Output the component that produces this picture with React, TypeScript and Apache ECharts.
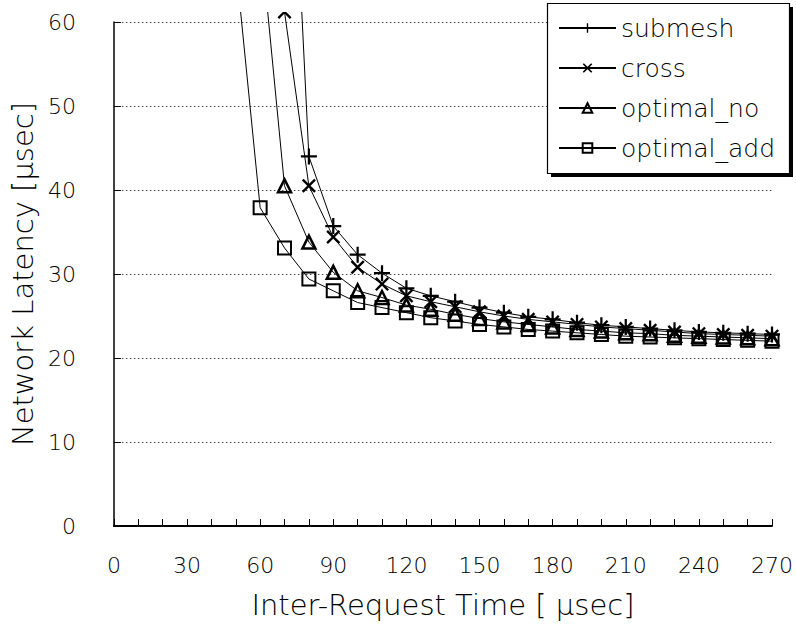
import React, { useEffect, useRef } from "react";
import * as echarts from "echarts";

const xValues = [50, 60, 70, 80, 90, 100, 110, 120, 130, 140, 150, 160, 170, 180, 190, 200, 210, 220, 230, 240, 250, 260, 270];
const submesh = [null, null, 103, 44.0, 35.7, 32.3, 30.1, 28.3, 27.4, 26.7, 26.0, 25.4, 24.9, 24.6, 24.2, 23.9, 23.7, 23.5, 23.3, 23.1, 23.0, 22.9, 22.8];
const cross = [null, null, 61.2, 40.5, 34.4, 30.8, 28.8, 27.4, 26.7, 26.1, 25.5, 25.0, 24.6, 24.3, 24.0, 23.7, 23.5, 23.3, 23.1, 22.9, 22.8, 22.7, 22.6];
const optimalNo = [null, 70.5, 40.5, 33.8, 30.2, 28.0, 27.2, 26.3, 25.8, 25.2, 24.7, 24.3, 24.0, 23.7, 23.4, 23.2, 23.0, 22.9, 22.7, 22.6, 22.5, 22.4, 22.3];
const optimalAdd = [67, 37.9, 33.1, 29.4, 28.0, 26.6, 26.0, 25.4, 24.8, 24.4, 24.0, 23.7, 23.4, 23.2, 23.0, 22.8, 22.6, 22.5, 22.4, 22.3, 22.2, 22.1, 22.0];
const seriesNames = ["submesh", "cross", "optimal_no", "optimal_add"];
const xTickLabels = [0, 30, 60, 90, 120, 150, 180, 210, 240, 270];

const FONT = "DejaVu Sans";
const WEIGHT = 300;
const PLUS = "path://M4.3,0 H5.7 V4.3 H10 V5.7 H5.7 V10 H4.3 V5.7 H0 V4.3 H4.3 Z";
const XMARK = "path://M0,1.2 L1.2,0 L5,3.8 L8.8,0 L10,1.2 L6.2,5 L10,8.8 L8.8,10 L5,6.2 L1.2,10 L0,8.8 L3.8,5 Z";

function pairs(vals: (number | null)[]) {
  return xValues.map((x, i) => [x, vals[i]]);
}

export default function App() {
  const ref = useRef<HTMLDivElement>(null);
  useEffect(() => {
    if (!ref.current) return;
    const chart = echarts.init(ref.current, undefined, { renderer: "svg" });
    const lineStyle = { color: "#000", width: 1 };
    const base = {
      type: "line",
      clip: false,
      lineStyle,
      connectNulls: false,
      z: 2,
    };
    chart.setOption({
      animation: false,
      backgroundColor: "#fff",
      grid: { left: 101, right: 23, top: 22, bottom: 109, containLabel: false },
      xAxis: {
        type: "value",
        min: 0,
        max: 270,
        interval: 10,
        name: "Inter-Request Time [ μsec]",
        nameLocation: "middle",
        nameGap: 64,
        nameTextStyle: { fontFamily: FONT, fontWeight: WEIGHT, fontSize: 29, color: "#000" },
        axisLine: { lineStyle: { color: "#000", width: 2 } },
        axisTick: { inside: true, length: 7, lineStyle: { color: "#000", width: 1 } },
        axisLabel: {
          fontFamily: FONT,
          fontWeight: WEIGHT,
          fontSize: 22,
          color: "#000",
          margin: 28,
          formatter: (v: number) => (xTickLabels.indexOf(v) >= 0 ? String(v) : ""),
        },
        splitLine: { show: false },
      },
      yAxis: {
        type: "value",
        min: 0,
        max: 60,
        interval: 10,
        name: "Network Latency [μsec]",
        nameLocation: "middle",
        nameGap: 72,
        nameRotate: 90,
        nameTextStyle: { fontFamily: FONT, fontWeight: WEIGHT, fontSize: 29, color: "#000" },
        axisLine: { show: true, lineStyle: { color: "#000", width: 1.5 } },
        axisTick: { show: true, inside: true, length: 7, lineStyle: { color: "#000", width: 1 } },
        axisLabel: { fontFamily: FONT, fontWeight: WEIGHT, fontSize: 22, color: "#000", margin: 38 },
        splitLine: { show: true, lineStyle: { color: "#444", width: 1, type: [1.5, 2.5] } },
      },
      legend: {
        orient: "vertical",
        left: 553,
        top: 9,
        z: 200,
        itemWidth: 57,
        itemHeight: 12,
        itemGap: 12,
        data: seriesNames,
        textStyle: { fontFamily: FONT, fontWeight: WEIGHT, fontSize: 25, color: "#000", lineHeight: 28 },
      },
      graphic: [
        { type: "rect", z: 100, shape: { x: 102, y: 0, width: 443, height: 12 }, style: { fill: "#fff" } },
        { type: "rect", z: 101, shape: { x: 551, y: 7, width: 242, height: 170 }, style: { fill: "#000" } },
        { type: "rect", z: 102, shape: { x: 547.5, y: 3.5, width: 242, height: 170 }, style: { fill: "#fff", stroke: "#000", lineWidth: 1.2 } },
      ],
      series: [
        { ...base, name: seriesNames[0], data: pairs(submesh), symbol: PLUS, symbolSize: 16, itemStyle: { color: "#000", borderWidth: 0 } },
        { ...base, name: seriesNames[1], data: pairs(cross), symbol: XMARK, symbolSize: 14, itemStyle: { color: "#000", borderWidth: 0 } },
        { ...base, name: seriesNames[2], data: pairs(optimalNo), symbol: "triangle", symbolSize: 13, itemStyle: { color: "rgba(0,0,0,0)", borderColor: "#000", borderWidth: 2.5 } },
        { ...base, name: seriesNames[3], data: pairs(optimalAdd), symbol: "rect", symbolSize: 13, itemStyle: { color: "rgba(0,0,0,0)", borderColor: "#000", borderWidth: 2 } },
      ],
    });
    return () => chart.dispose();
  }, []);
  return <div ref={ref} style={{ width: 796, height: 635, position: "absolute", left: 0, top: 0 }} />;
}
